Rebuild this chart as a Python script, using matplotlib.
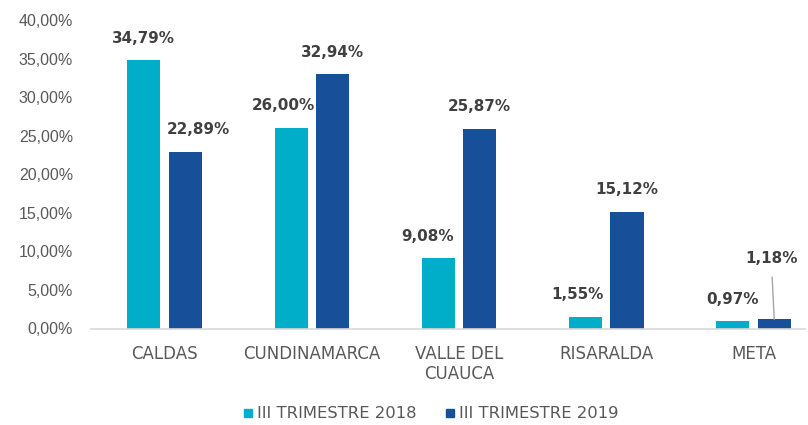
import matplotlib.pyplot as plt
from matplotlib.lines import Line2D
import numpy as np

categories = ['CALDAS', 'CUNDINAMARCA', 'VALLE DEL\nCUAUCA', 'RISARALDA', 'META']
serie_2018 = [34.79, 26.00, 9.08, 1.55, 0.97]
serie_2019 = [22.89, 32.94, 25.87, 15.12, 1.18]
series_names = ['III TRIMESTRE 2018', 'III TRIMESTRE 2019']
y_ticks = [0, 5, 10, 15, 20, 25, 30, 35, 40]

# label nudges (pixels) as placed by hand in the original
nudge_2018 = [(0, 22), (-8, 22), (-11, 22), (-8, 22), (0, 22)]
nudge_2019 = [(13, 22), (0, 22), (0, 22), (0, 22), (-3, 61)]

c_light = '#00aec9'
c_dark = '#174f98'
txt = '#404040'
grey = '#595959'

fig = plt.figure(figsize=(8.08, 4.25), dpi=100)
ax = fig.add_axes([91/808, 96.5/425, 714/808, 308.5/425])

x = np.arange(len(categories))
w = 0.225
off = 0.141
ax.bar(x - off, serie_2018, w, color=c_light)
ax.bar(x + off, serie_2019, w, color=c_dark)

def fmt(v):
    return f'{v:.2f}'.replace('.', ',') + '%'

for xi, v, (dx, dy) in zip(x - off, serie_2018, nudge_2018):
    ax.annotate(fmt(v), (xi, v), xytext=(dx, dy), textcoords='offset pixels',
                ha='center', va='center', fontsize=10.9, fontweight='bold', color=txt)
for i, (xi, v, (dx, dy)) in enumerate(zip(x + off, serie_2019, nudge_2019)):
    arrow = None
    if dy > 40:
        arrow = dict(arrowstyle='-', color='#a6a6a6', lw=1, shrinkA=6, shrinkB=0)
    ax.annotate(fmt(v), (xi, v), xytext=(dx, dy), textcoords='offset pixels',
                ha='center', va='center', fontsize=10.9, fontweight='bold', color=txt,
                arrowprops=arrow)

ax.set_xlim(-0.5, 4.35)
ax.set_ylim(0, 40)
ax.set_yticks(y_ticks)
ax.set_yticklabels([fmt(t) for t in y_ticks], fontfamily='Liberation Sans', fontsize=11.5, color=grey)
ax.set_xticks(x)
ax.set_xticklabels(categories, fontsize=12, color=grey, linespacing=1.1)
ax.tick_params(axis='y', length=0, pad=13)
ax.tick_params(axis='x', length=0, pad=12)
for s in ['top', 'right', 'left']:
    ax.spines[s].set_visible(False)
ax.spines['bottom'].set_color('#d9d9d9')
ax.spines['bottom'].set_linewidth(1.2)

handles = [Line2D([], [], marker='s', ls='', color=c, markersize=6) for c in (c_light, c_dark)]
leg = fig.legend(handles, series_names, loc='center', bbox_to_anchor=(430/808, 1 - 414/425),
                 ncol=2, frameon=False, fontsize=11.8, handletextpad=0.1, columnspacing=1.7,
                 handlelength=0.8, borderpad=0.1)
for t in leg.get_texts():
    t.set_color(grey)

fig.savefig('out.png', dpi=100)
